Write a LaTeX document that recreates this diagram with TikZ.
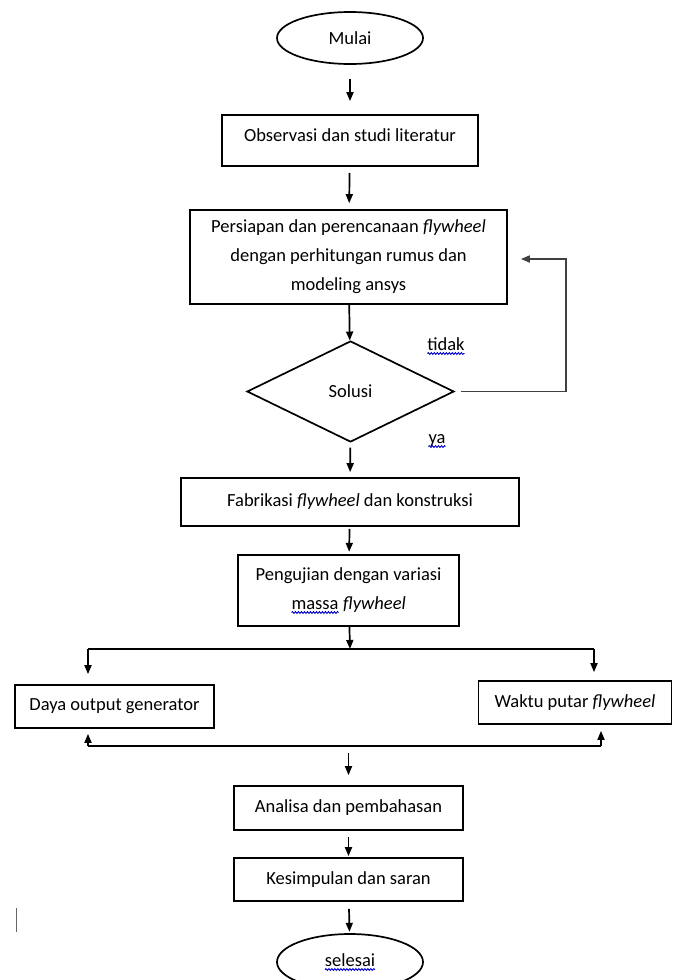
\documentclass[tikz,border=0pt]{standalone}
\usepackage{fontspec}
\setmainfont{Carlito}
\usetikzlibrary{shapes.geometric,arrows.meta,decorations.pathmorphing}
\newcommand\bwave[1]{\tikz[baseline=(bw.base), x=1pt, y=1pt]{%
  \node[rectangle, draw=none, inner sep=0pt, outer sep=0pt, minimum width=0pt, minimum height=0pt] (bw) {#1};%
  \draw[blue!80!black, line width=0.9pt, decorate, decoration={snake, amplitude=0.9pt, segment length=3pt}]
    ([yshift=-3.5pt]bw.base west) -- ([yshift=-3.5pt]bw.base east);}}
\begin{document}
\begin{tikzpicture}[x=1pt,y=-1pt,
  font=\fontsize{18.5}{29}\selectfont,
  line width=1.7pt,
  box/.style={draw, rectangle, inner sep=0pt, align=center},
  term/.style={draw, ellipse, inner sep=0pt},
  arr/.style={-{Triangle[length=9pt,width=7pt]}},
  lbl/.style={inner sep=0pt}]
\fill[white] (0,0) rectangle (673,980);
\path[use as bounding box, clip] (0,0) rectangle (673,980);

% nodes
\node[term, minimum width=146pt, minimum height=52pt] (mulai) at (350,38) {Mulai};
\node[box, minimum width=256pt, minimum height=51pt, text depth=10pt] (obs) at (350,140.5) {Observasi dan studi literatur};
\node[box, minimum width=317pt, minimum height=94pt] (pers) at (348.5,257)
  {Persiapan dan perencanaan \textit{flywheel}\\ dengan perhitungan rumus dan\\ modeling ansys};
\node[draw, diamond, inner sep=0pt, minimum width=207pt, minimum height=101pt] (sol) at (350.5,391.5) {Solusi};
\node[box, minimum width=338pt, minimum height=48pt] (fab) at (350,502) {Fabrikasi \textit{flywheel} dan konstruksi};
\node[box, minimum width=221pt, minimum height=71pt] (peng) at (348.5,590.5)
  {Pengujian dengan variasi\\ \bwave{massa} \textit{flywheel}};
\node[box, minimum width=199pt, minimum height=43pt] (daya) at (114.5,706.5) {Daya output generator};
\node[box, minimum width=193pt, minimum height=43pt] (waktu) at (575,702.5) {Waktu putar \textit{flywheel}};
\node[box, minimum width=229pt, minimum height=44pt] (anal) at (348.5,808) {Analisa dan pembahasan};
\node[box, minimum width=229pt, minimum height=43pt] (kes) at (348.5,879.5) {Kesimpulan dan saran};
\node[term, minimum width=146pt, minimum height=56pt] (sel) at (350,962) {\bwave{selesai}};

\node[lbl] (tidak) at (446,346) {\bwave{tidak}};
\node[lbl] (ya) at (437,441) {\bwave{ya}};

% coordinates
\coordinate (split) at (350,649);
\coordinate (sl) at (88,649);
\coordinate (sr) at (594,649);
\coordinate (ml) at (88,746);
\coordinate (mr) at (601,746);
\coordinate (mc) at (348.5,746);
\coordinate (fb) at (566,259);

% connectors
\draw[arr, shorten <=14pt, shorten >=13pt] (mulai) -- (obs);
\draw[arr, shorten <=6pt, shorten >=6pt] (obs) -- (pers);
\draw[arr] (pers) -- (sol);
\draw[arr, shorten <=5pt, shorten >=5pt] (sol) -- (fab);
\draw[arr, shorten <=2pt, shorten >=3pt] (fab) -- (peng);
\draw[arr] (peng) -- (split);
\draw (sl) -- (sr);
\draw[arr, shorten >=10pt] (sl) -- (sl |- daya.north);
\draw[arr, shorten >=8pt] (sr) -- (sr |- waktu.north);
\draw (ml) -- (mr);
\draw[arr, shorten >=5pt] (ml) -- (ml |- daya.south);
\draw[arr, shorten >=6pt] (mr) -- (mr |- waktu.south);
\draw[arr, shorten <=7pt, shorten >=10pt] (mc) -- (anal);
\draw[arr, shorten <=6pt, shorten >=1pt] (anal) -- (kes);
\draw[arr, shorten <=7pt, shorten >=2pt] (kes) -- (sel);
\draw[arr, draw=black!75, shorten <=6pt, shorten >=13pt] (sol.east) -| (fb) -- (fb -| pers.east);

% text cursor mark
\draw[line width=1pt, black!60] (16,908) -- (16,932);
\end{tikzpicture}
\end{document}
